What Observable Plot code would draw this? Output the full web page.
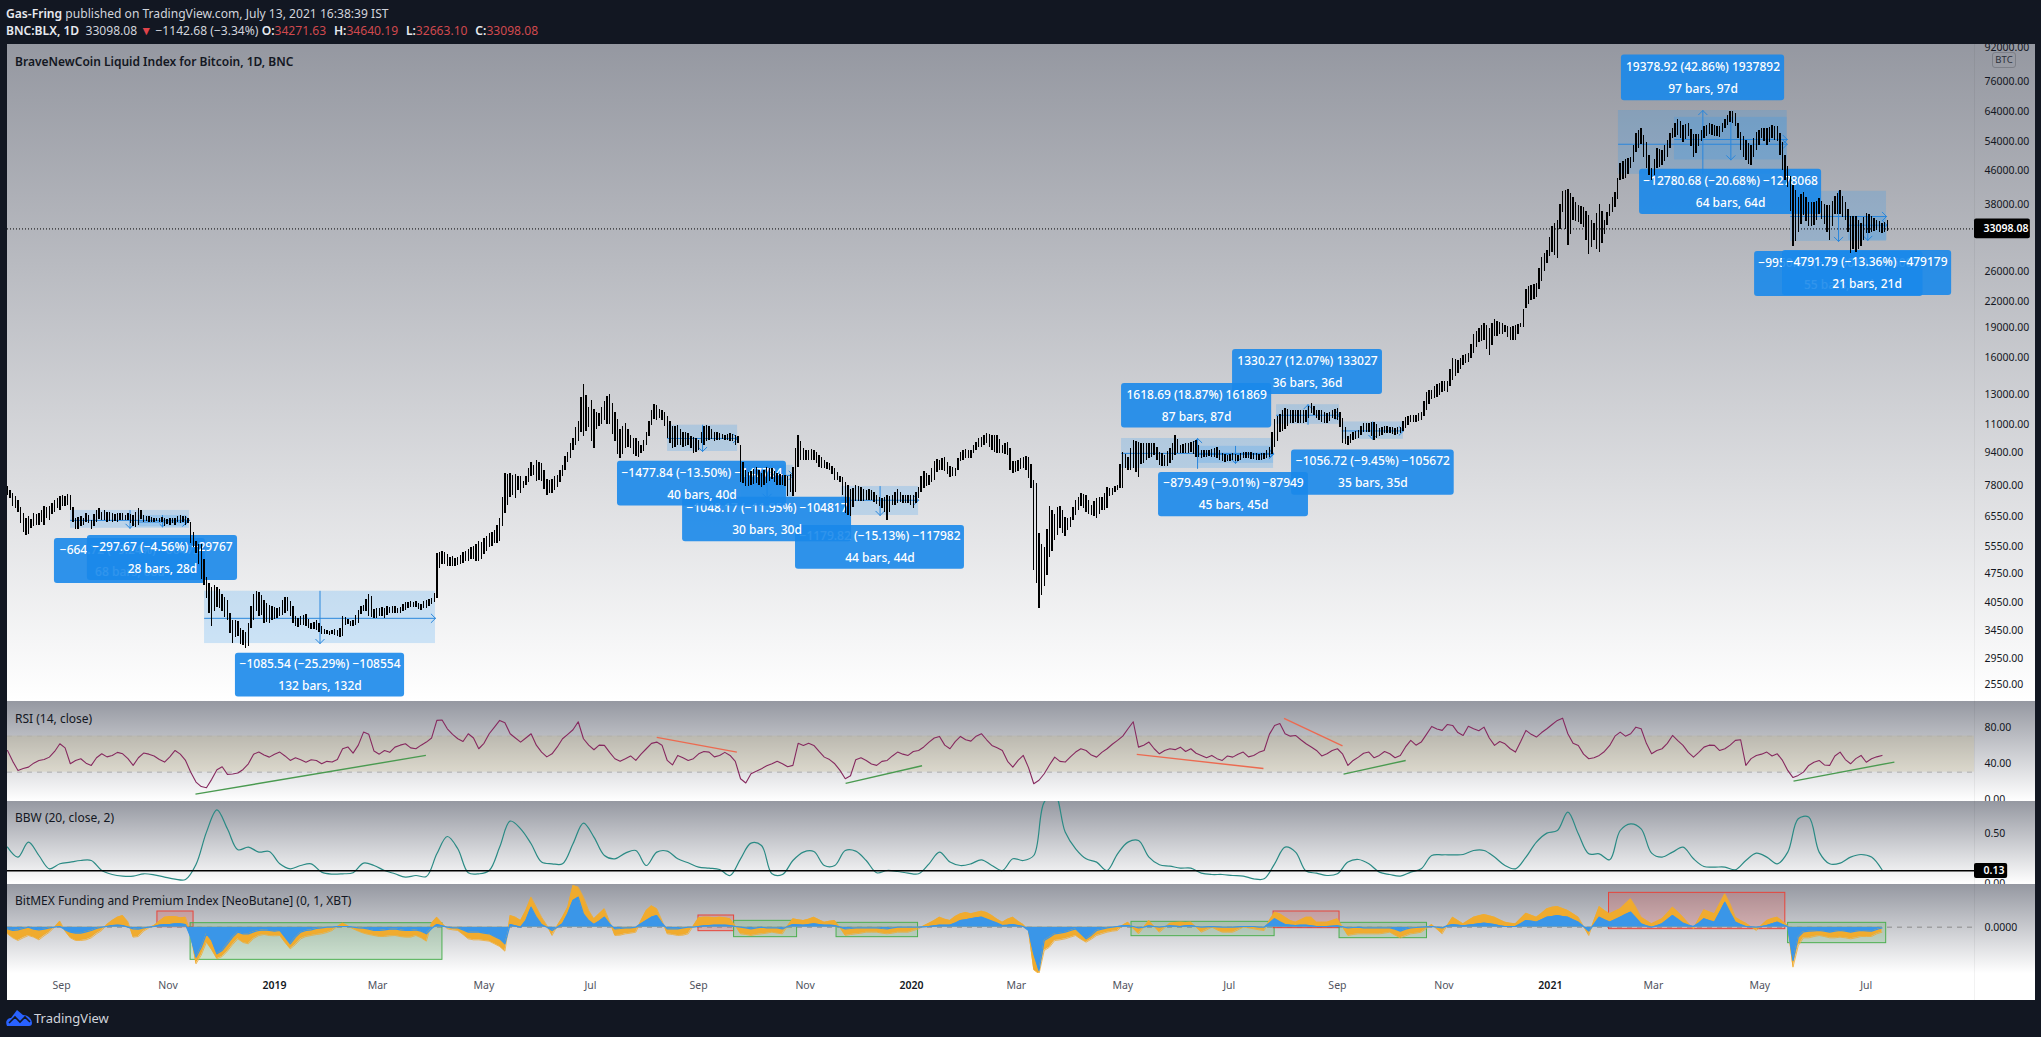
<!DOCTYPE html>
<html><head><meta charset="utf-8">
<script src="https://cdn.jsdelivr.net/npm/d3@7"></script>
<script src="https://cdn.jsdelivr.net/npm/@observablehq/plot@0.6"></script>
<style>
html,body{margin:0;padding:0;background:#121722;width:2041px;height:1037px;overflow:hidden;font-family:"Noto Sans",sans-serif}
.pane{position:absolute;left:0;width:2035px;overflow:hidden;background:linear-gradient(#9598a1,#ffffff) no-repeat 6.5px 0/2028.5px 100%}
.pane svg{position:absolute;left:0;top:0;background:transparent}
.pane::after{content:"";position:absolute;left:1974px;top:0;bottom:0;width:1px;background:rgba(0,0,0,.05)}
#fund{background:linear-gradient(#9598a1 0%,#ffffff 77%,#ffffff 100%) no-repeat 6.5px 0/2028.5px 100%}
.ttl{position:absolute;left:15px;font-size:12px;color:#131722;white-space:pre;transform:translateY(-50%)}
.hd{position:absolute;left:6px;font-size:12.1px;color:#d1d4dc;white-space:pre;transform:translateY(-50%)}
.hd b{font-weight:600;color:#e8eaf0}.hd i{font-style:normal;color:#d0494e;margin-right:1.5px}
#btc{position:absolute;left:1992px;top:52px;width:22px;height:14px;border:1px solid #7d8088;border-radius:3px;font-size:9.5px;line-height:14px;text-align:center;color:#2a2e39}
#tv{position:absolute;left:34px;top:1018px;transform:translateY(-50%);font-size:13px;color:#d1d4dc}
#logo{position:absolute;left:6px;top:1009px}
</style></head><body>
<div class="hd" style="top:12.5px"><b>Gas-Fring</b> published on TradingView.com, July 13, 2021 16:38:39 IST</div>
<div class="hd" style="top:29.5px"><b>BNC:BLX, 1D</b>  33098.08 <span style="color:#e0434a">▼</span> −1142.68 (−3.34%) <b>O:</b><i>34271.63</i>  <b>H:</b><i>34640.19</i>  <b>L:</b><i>32663.10</i>  <b>C:</b><i>33098.08</i></div>
<div class="pane" id="main" style="top:44px;height:657px"></div>
<div class="pane" id="rsi" style="top:701px;height:100px"></div>
<div class="pane" id="bbw" style="top:801px;height:83px"></div>
<div class="pane" id="fund" style="top:884px;height:116px"></div>
<div class="ttl" style="top:60.5px;font-weight:600">BraveNewCoin Liquid Index for Bitcoin, 1D, BNC</div>
<div class="ttl" style="top:717.5px">RSI (14, close)</div>
<div class="ttl" style="top:817px">BBW (20, close, 2)</div>
<div class="ttl" style="top:900px">BitMEX Funding and Premium Index [NeoButane] (0, 1, XBT)</div>
<div id="btc">BTC</div>
<svg id="logo" width="27" height="18" viewBox="0 0 27 18"><path d="M1 17C-1 13 1 9 5 9L11 1 17 6C22 6 26 10 26 14 26 16 25 17 23 17Z" fill="#2962ff"/><path d="M3 14L9 8 14 13 19 8 24 13" fill="none" stroke="#121722" stroke-width="1.6"/></svg>
<div id="tv">TradingView</div>
<script>
// ---------- data ----------
const firstDay = Date.UTC(2018, 7, 1);           // 1 Aug 2018
const priceStepDays = 3, indicatorStepDays = 6;
const priceHigh = [7750,7480,7190,6670,6550,6670,6670,6930,6930,7190,7330,7350,7400,6480,6550,6670,6420,6790,6730,6730,6670,6670,6670,6670,6610,6850,6610,6550,6500,6500,6500,6480,6480,6610,6550,6360,5700,5600,4650,4400,4400,4240,4090,3660,3630,3460,3600,4240,4290,4090,3980,3940,3940,4160,4060,3730,3730,3770,3600,3660,3530,3460,3460,3460,3730,3680,3660,3870,3980,4240,3890,3920,3920,3940,3960,3940,4040,4060,4060,4010,4090,4130,5330,5400,5300,5250,5200,5350,5450,5550,5700,5800,5950,6050,6500,8350,8350,8300,8200,8200,8900,8980,8830,8100,8100,8270,8750,9430,10150,11170,13800,12150,12000,11700,12500,13050,11800,10700,11060,10350,10150,9800,10550,11900,12250,11900,11500,10870,10970,10550,10450,10260,10050,10870,10870,10550,10450,10350,10450,10350,9800,8500,8430,8660,8350,8660,8590,8350,8270,8200,8660,10350,9600,9500,9500,9250,8980,8830,8590,8200,7960,7620,7810,7720,7600,7600,7390,7260,7390,7390,7620,7390,7390,7390,7740,8430,8280,8920,9000,9170,8670,8590,9430,9550,9520,9970,10260,10460,10360,10360,9790,9970,8920,9000,9170,9170,8050,5960,5500,6950,6650,6950,6540,6540,7190,7450,7390,6980,7260,7320,7740,7680,7820,9430,9170,10070,9970,9880,9880,9880,9430,9260,9610,10360,9790,9880,9970,10070,9520,9520,9550,9700,9350,9260,9350,9260,9430,9430,9350,9320,9350,9700,11350,11680,12070,11920,11920,11920,11920,12420,11920,11920,11700,11920,12040,11380,10270,10520,10650,11100,11100,11150,10750,10900,10850,10750,10850,11480,11590,11590,11800,13200,13340,13800,14000,14050,15950,15790,16250,16450,18250,18900,19450,18900,19850,19600,19200,19020,19200,19450,23600,24100,24350,28250,29300,33500,34700,40900,41400,39600,37700,37300,35700,34100,38000,34700,38000,40700,47900,49000,49600,56500,58300,53900,46400,52000,51500,54400,58300,61400,59200,59800,56300,56300,58800,59800,59200,58800,61300,64200,63200,57000,54400,52800,57000,58200,58200,59100,58800,53900,46900,42300,39600,40600,38300,38300,39200,38000,37700,39700,41100,38500,35400,35400,34100,36200,35400,34800,34100,34640];
const priceLow = [7400,6930,6730,5990,5930,6190,6240,6240,6420,6730,6790,6930,6790,6100,6190,6360,6100,6360,6420,6360,6360,6360,6420,6400,6190,6240,6360,6350,6340,6360,6190,6240,6240,6300,6240,5630,5330,4600,4140,3530,3940,3840,3660,3210,3340,3180,3150,3660,3730,3600,3600,3680,3730,3800,3730,3530,3560,3530,3480,3460,3370,3370,3370,3340,3340,3570,3530,3600,3840,3730,3690,3730,3690,3800,3800,3800,3870,3940,3940,3870,3900,4010,4130,5000,4950,4950,4980,5050,5100,5150,5100,5300,5500,5650,5700,6670,7300,7250,7460,7800,8200,8000,8000,7400,7460,7730,8200,8900,9500,10000,10280,10800,9600,10900,11280,11000,10000,9100,9600,9600,9180,9340,9800,10970,11280,11280,10150,9600,9800,9700,9800,9340,9500,9800,10070,10000,10070,10070,10000,9800,7950,7750,7800,7890,7730,7890,8100,7800,7800,7330,7330,8660,8980,8980,8980,8660,8590,8500,8050,7960,6670,6550,7130,7120,7190,7170,7030,6850,6420,6980,7050,7050,7050,6850,7260,7680,7820,8040,8510,8430,8190,8220,8920,9090,9090,9520,9700,9880,9520,9350,9350,9260,8350,8430,8590,8120,4850,3900,4420,5200,5740,6130,5850,6180,6600,6960,6720,6600,6500,6790,6850,7390,7600,7680,8510,8590,8190,8830,9090,9260,8750,8670,8830,9260,9350,9350,9430,9170,9090,9170,9170,9090,8920,8920,9000,8920,9090,9090,9030,9000,9030,9170,9700,10550,10700,11050,11150,11050,11150,11700,11380,11150,11050,11380,11270,9900,9800,10070,10170,10520,10520,10070,10270,10450,10450,10350,10450,10750,11150,11150,11270,11920,12700,12850,13200,13200,14110,14650,15350,15630,16450,17500,17670,16250,18050,18250,18500,17670,17670,19000,21100,22130,22550,24600,27300,29000,28000,36400,30100,34700,34400,33400,28600,31000,29000,32000,35400,37300,43500,43900,46400,51000,53200,46400,43500,46400,47300,49500,55000,56000,53900,55700,49500,52700,55000,56300,55800,55500,58200,60400,58800,51500,48700,47300,51500,55000,52800,55000,54000,46000,41700,30000,32400,35700,33500,33800,35900,34000,31000,35900,35900,34700,28800,29000,30000,32200,32500,32900,32200,32663];
// the bars that lie between the ones above
const betweenHigh = [7600,7350,6900,6500,6450,6620,6800,6900,7050,7250,
7400,7420,6900,6520,6480,6600,6650,6850,6780,6700,
6650,6680,6600,6640,6720,6800,6560,6520,6480,6520,
6450,6500,6560,6580,6500,6000,5600,5150,4500,4450,
4350,4150,3800,3650,3500,3420,3950,4300,4200,4020,
3960,3900,4080,4150,3950,3700,3760,3680,3620,3600,
3480,3440,3470,3500,3720,3640,3750,3950,4120,4180,
3900,3930,3950,3950,3920,4000,4040,4050,4030,4070,
4110,4250,5350,5350,5200,5180,5280,5400,5500,5600,
5680,5880,6000,6250,7300,8300,8250,8200,8000,8600,
8750,8900,8500,8050,8200,8500,9200,9900,10800,12800,
13000,12600,11800,12100,12900,12400,11300,10900,10700,10200,
10000,10050,11200,12300,12000,11800,11200,10900,10700,10500,
10300,10150,10500,10950,10700,10500,10400,10400,10400,10300,
8900,8420,8550,8500,8500,8600,8450,8300,8250,8300,
9600,10000,9500,9550,9400,9150,8900,8700,8400,8150,
7800,7700,7760,7650,7620,7500,7320,7300,7350,7500,
7500,7400,7380,7500,8200,8350,8600,9050,9100,8900,
8650,9100,9500,9530,9800,10150,10350,10400,10380,10100,
9900,9600,8950,9100,9200,8800,7900,5600,6100,6800,
6900,6800,6500,6900,7300,7420,7200,7150,7300,7450,
7700,7750,8800,9300,9600,10020,9900,9880,9870,9650,
9350,9450,9900,10100,9850,9900,10000,9800,9500,9540,
9620,9500,9300,9300,9300,9350,9430,9400,9330,9330,
9500,10500,11500,11900,12000,11900,11900,11900,12200,12200,
11900,11800,11800,12000,11800,10800,10400,10600,10900,11100,
11120,11000,10850,10880,10800,10800,11200,11550,11600,11700,
12500,13300,13600,13900,14050,15000,15900,16000,16350,17300,
18600,19200,19200,19400,19700,19400,19100,19100,19300,21000,
23900,24200,26500,28800,31500,34200,38000,41200,40500,38500,
37500,36500,34800,36000,36500,36300,39500,44000,48500,49300,
53000,57500,56000,50000,49000,51800,53000,56500,60000,60500,
59500,58000,56300,57500,59300,59500,59000,60000,62800,64000,
60000,55700,53500,55000,57600,58200,58600,59000,56500,50000,
44500,41000,40100,39500,38300,38700,38600,37800,38700,40400,
39800,36900,35400,34800,35200,35800,35100,34500,34400];
const betweenLow = [7250,6850,6300,5900,6150,6250,6350,6500,6650,6850,
6950,7000,6350,6100,6250,6300,6200,6450,6400,6380,
6380,6400,6400,6300,6180,6450,6380,6350,6370,6350,
6260,6300,6330,6350,6300,5500,5000,4450,3800,3850,
3900,3720,3400,3320,3200,3120,3500,3850,3750,3620,
3650,3700,3750,3850,3600,3520,3560,3500,3470,3420,
3380,3360,3360,3330,3560,3540,3560,3780,3850,3720,
3700,3740,3750,3800,3810,3840,3900,3930,3890,3920,
3960,4050,4900,5000,4950,4950,5000,5100,5150,5100,
5150,5400,5550,5650,6200,7000,7400,7600,7700,7950,
8250,8050,7650,7450,7600,7950,8500,9100,9800,10500,
10600,10000,10700,11000,11000,10400,9300,9300,9650,9300,
9150,9450,10300,11300,11400,10900,9900,9700,9800,9750,
9600,9400,9900,10000,10100,10050,10100,10050,10000,9900,
7900,7780,7850,7800,7820,8000,7950,7800,7750,7500,
7500,9000,9000,9000,8850,8600,8550,8300,8050,7400,
6600,6900,7150,7150,7180,7100,6950,6700,6700,7000,
7100,7050,7000,7050,7500,7750,7950,8400,8500,8300,
8200,8500,9000,9100,9350,9650,9800,9700,9400,9350,
9300,8500,8400,8550,8500,7700,4500,4200,4700,5400,
5900,5950,6050,6400,6800,6850,6650,6550,6650,6800,
7350,7500,7700,8600,8500,8400,8800,9000,9150,9000,
8700,8700,9000,9350,9350,9380,9300,9130,9130,9180,
9130,9000,8900,8950,8950,9000,9080,9050,9010,9010,
9100,9300,10000,10600,10900,11100,11100,11100,11400,11600,
11250,11100,11200,11300,10800,9850,9900,10100,10350,10500,
10300,10150,10350,10450,10400,10400,10600,10950,11150,11200,
11500,12300,12750,13000,13250,13600,14400,15000,15500,16000,
17000,17600,16800,17200,18100,18300,18000,17700,18300,19000,
21600,22300,23500,26000,28300,28500,33000,33000,32000,34500,
33900,31000,29800,29500,30500,33700,36300,39000,43700,45000,
48000,52000,49500,44800,44800,46800,48500,52000,55500,55000,
54800,52500,50500,54000,55600,56000,55600,56800,59300,60000,
55000,49500,47500,49500,53000,54000,53900,54500,50000,43500,
36500,30800,34000,34600,33600,34800,35000,32500,33500,35900,
35300,32500,29500,29500,31000,32300,32700,32500,32400];
const lastClose = 33098.08;
const priceTicks = [92000,76000,64000,54000,46000,38000,26000,22000,19000,16000,13000,11000,9400,7800,6550,5550,4750,4050,3450,2950,2550];

const rsiValues = [54.1,31.9,35.6,43,46.7,61.5,39.3,44.9,37.5,50.4,48.6,50.4,37.5,51.2,47.9,41.2,54.1,43,19,12.7,32.7,27.5,29,39.3,52.3,46.7,52.3,43,43.8,43.8,39.3,41.2,56,51.2,74.5,53.4,54.1,57.8,61.5,56,63.4,87.5,78.2,67.1,72.7,56,72.7,87.5,72.7,63.4,72.7,52.3,50.4,67.1,77.1,67.1,54.9,59.7,44.9,44.9,43,56,63.4,43,48.6,43,50.4,52.3,48.6,48.6,22.7,28.2,33.8,39.3,39.3,37.5,59.7,59.7,46.7,39.3,22.7,43.8,43,37.5,43,52.3,48.6,54.1,63.4,69.7,56,69.7,64.5,72.7,59.7,54.1,35.6,48.6,17.1,28.2,46.7,41.2,52.3,54.1,46.7,56,65.3,78.2,57.8,63.4,50.4,56,57.8,56,48.6,48.6,43,46.7,52.3,48.6,54.1,81.9,72.7,70.8,61.5,54.1,50.4,56,37.5,46.7,52.3,48.6,50.4,48.6,65.3,63.4,80.8,76.4,81.9,70.8,78.2,80,59.7,61.5,52.3,76.4,69,78.2,87.5,72.7,59.7,44.9,48.6,59.7,74.5,72.7,78.2,50.4,56,70.8,59.7,46.7,57.8,59.7,56,65.3,37.5,48.6,52.3,50.4,31.9,26.4,37.5,43,37.5,52.3,39.3,48.6,44.9,48.6];
const rsiBetween = [42,34,40,44,53,57,43,40,46,47,
52,45,46,50,44,47,50,30,14,22,
36,28,33,50,49,50,48,46,41,43,
42,44,58,60,72,50,52,60,57,60,
68,88,72,64,68,62,80,85,68,68,
60,47,58,72,86,60,60,52,42,48,
50,62,60,38,46,45,53,47,52,42,
18,31,37,42,36,62,62,53,44,32,
26,46,39,42,48,50,53,58,68,60,
64,66,70,66,57,42,43,35,21,38,
42,47,56,49,52,61,70,86,60,56,
54,55,53,51,46,45,48,50,47,52,
72,84,70,66,58,48,54,50,43,51,
46,53,46,58,60,72,78,83,74,81,
76,68,64,56,64,72,74,83,90,62,
50,46,53,70,70,80,62,54,62,65,
52,52,60,54,60,66,45,50,48,43,
24,30,41,38,48,44,45,41,47];
const rsiTicks = [0,40,80];
const rsiTrendStart = [107.7,372,480.2,647,731.4,765.5,1023.3];
const rsiTrendEnd = [239.7,417.9,524,719.6,764.9,801.1,1081.1];
const rsiTrendFrom = [5.6,68.6,17.5,49.7,89.7,27.8,20];
const rsiTrendTo = [48.6,52.3,37.1,34.1,59.3,43,41.2];
const rsiTrendKind = ["up","down","up","down","down","up","up"];

const bbwValues = [.367,.267,.417,.283,.15,.2,.217,.233,.233,.133,.093,.077,.077,.1,.09,.067,.047,.043,.193,.517,.74,.55,.34,.367,.317,.323,.2,.15,.183,.2,.117,.097,.1,.11,.207,.183,.133,.1,.067,.083,.073,.3,.473,.35,.11,.1,.133,.367,.627,.55,.4,.217,.2,.2,.4,.607,.467,.283,.25,.307,.333,.183,.317,.327,.25,.21,.167,.157,.143,.083,.25,.407,.383,.1,.093,.233,.317,.323,.183,.183,.333,.327,.233,.11,.133,.123,.107,.1,.2,.317,.217,.183,.2,.24,.183,.133,.25,.233,.283,.817,.9,.517,.35,.25,.217,.133,.3,.417,.433,.267,.19,.177,.157,.157,.107,.093,.093,.083,.077,.05,.05,.2,.367,.317,.127,.107,.083,.1,.217,.243,.2,.117,.093,.077,.117,.15,.283,.29,.29,.293,.333,.333,.267,.183,.15,.267,.417,.507,.533,.717,.5,.3,.3,.24,.533,.6,.55,.307,.267,.317,.367,.25,.173,.167,.167,.14,.233,.307,.267,.2,.317,.65,.667,.317,.2,.207,.267,.293,.267,.14];
const bbwLast = 0.13;
const bbwTicks = [0,0.5];

// funding series, in units of 0.0001
const fundBlue = [-.25,-.4,0,-.4,-.1,.1,-.75,-.9,-.5,0,.25,.25,-.25,-.1,.1,.4,.5,.4,-4.5,-1,-4,-2.5,-.75,-1,-.5,-.5,-.5,-2.5,-.75,-.4,-.1,0,.1,0,-.15,-.5,-.4,-.25,-.5,-.4,-1,.4,0,-.1,-.75,-.75,-1,-1.75,.4,0,3,.4,-.5,.5,4,2,.4,1.5,-.25,-.1,0,1,1.75,-.25,-.25,0,.1,.25,.3,.25,0,-.25,0,-.1,-.25,.4,.3,.5,.3,.25,-.25,-.1,-.1,-.1,-.25,0,0,0,.1,.3,.3,1,1.25,1.5,.9,.25,.4,.1,-4,-2,-1,-.75,-.25,-1.75,-.5,-.1,.1,.25,-.1,.2,0,.2,.1,.25,0,.1,0,0,.1,.1,0,1.25,.4,.25,.3,.1,.1,.2,-.1,0,-.1,-.1,-.1,-.6,-.1,0,.1,-.1,.4,.2,.4,.6,.4,.1,.1,1,.75,1.5,1.75,1.5,.75,-.6,1.5,.75,1.5,2.25,.5,0,.5,1.75,.6,.1,1.25,.75,3.75,.75,.1,0,.25,.75,.1,-1.5,-.6,-.5,-.75,-.5,-.75,-.5,-.6,-.1];
const fundOrange = [-1,-2,-1.25,-1.9,-.75,.9,-1.6,-2,-1.6,-.5,1,1.75,-1.5,-.6,.25,1.5,1.6,1.5,-5.5,-2.25,-4.75,-3.6,-1.75,-2.5,-1.25,-1.25,-1.25,-3.25,-1.75,-1.25,-1,-.5,.6,-.25,-.9,-1.25,-1.4,-1.25,-1.5,-1.25,-2.1,1.5,-.25,-.5,-1.75,-1.9,-2.1,-2.9,1.75,1,4.5,1.5,-1.25,1.5,6.25,4.5,1.25,2.75,-1.25,-1,-.75,2.5,2.75,-1,-1.25,-1,1.4,1.5,1.5,1.25,-1,-1.25,-1,-.75,-1,1.25,1,1.5,.75,1,-1.25,-1,-.75,-.75,-1,-.75,-.75,-.25,.6,1.5,1,2,2,2.4,1.75,.75,1.5,.4,-6.4,-3.5,-2,-1.75,-1.25,-2.25,-1.25,-.75,-.5,.75,-1,1,-.75,.6,.75,.75,-.75,0,-.75,-.75,0,-.25,-.5,2.25,1.5,.75,1.5,.75,.75,1.25,-1.25,-1,-1,-1,-.75,-1.6,-1,-.75,.4,-1,1.5,.5,1.5,1.9,1.5,.75,.5,2.1,1.5,2.75,3.1,2.5,1.5,-1.25,3.1,2,2.75,4.25,1.5,.5,1.25,3,1.5,-.25,2.6,2,5,1.5,.6,-.5,1,1.5,.25,-2.8,-1.6,-1.25,-1.6,-1.5,-1.75,-1.4,-1.4,-.75];
const fundBlueBetween = [-.5,-.2,-.3,-.3,0,-.4,-.9,-.7,-.2,.1,
.3,0,-.3,0,.3,.4,.5,-1.5,-3,-2,
-3.5,-1.5,-1,-.7,-.4,-.6,-1.5,-1.5,-.5,-.2,
0,.1,.1,-.1,-.3,-.5,-.3,-.4,-.5,-.6,
-.2,.2,-.1,-.4,-.7,-.9,-1.4,-2.5,.2,1,
1.5,0,0,2,4.5,1,.9,.5,-.2,-.1,
.5,1.5,.6,-.25,-.1,0,.2,.3,.3,.1,
-.1,-.1,-.1,-.1,.1,.35,.4,.4,.3,0,
-.2,-.1,-.1,-.2,-.1,0,0,.05,.2,.3,
.6,1.1,1.4,1.2,.6,.3,.25,-.5,-6.5,-1.5,
-.9,-.5,-1,-1.2,-.3,0,.2,.1,0,.1,
.1,.15,.2,.1,.05,.05,0,.05,.1,0,
.6,.8,.3,.3,.2,.1,.15,.05,-.05,-.1,
-.1,-.1,-.3,-.3,-.05,.05,0,.2,.3,.3,
.5,.5,.2,.1,.5,.9,1.1,1.6,1.6,1.1,
.1,.4,1.1,1.1,1.9,1.4,.2,.2,1.1,1.2,
.3,.6,1,2.2,2.2,.4,.05,.1,.5,.4,
-5,-.7,-.55,-.6,-.6,-.6,-.6,-.55,-.35];
const fundOrangeBetween = [-1.6,-1.6,-1.5,-1.3,0,-.6,-2,-1.9,-1,.4,
1.5,.8,-1.4,-.1,.9,1.6,1.4,-1,-4.2,-3.4,
-4.4,-2.6,-2.3,-1.7,-1.1,-1.3,-2.3,-2.6,-1.4,-1.1,
-.8,.1,.2,-.6,-1.1,-1.4,-1.3,-1.4,-1.5,-1.6,
.6,.6,-.4,-1.1,-1.9,-2,-2.5,-3.6,1.5,2.5,
3,.3,.2,3,6,2.5,2,.8,-1.2,-.9,
1,3.2,1,-1.1,-1.2,.2,1.5,1.4,1.4,.2,
-1.1,-1.1,-.9,-.9,.2,1.1,1.2,1.1,.9,-.1,
-1.1,-.9,-.75,-.9,-.9,-.75,-.5,.2,1,1.2,
1.6,2.2,2.2,2.2,1.2,1.2,.9,-.5,-7,-3,
-1.9,-1.5,-1.8,-1.8,-1,-.6,.3,-.2,0,.1,
-.1,.7,.7,0,-.4,-.4,-.75,-.4,-.1,-.4,
1,2,1,1.1,1.5,.75,1,0,-1.1,-1,
-1,-.9,-1.2,-1.3,-.9,-.2,-.3,.3,1,1,
1.7,1.7,1.1,.6,1.3,1.8,2.1,3,2.8,2,
.1,1,2.5,2.4,3.5,3,1,.9,2.1,2.3,
.6,1.2,2.3,3.5,3.5,1,.05,.3,1.3,.9,
-6,-1.6,-1.4,-1.4,-1.6,-1.6,-1.6,-1.4,-1];
const fundBoxStart = [85.9,104.9,395.9,416.3,475,644,725.4,763.2,917.6,1020.2];
const fundBoxEnd = [106.6,249.2,416.3,452.4,521.7,726,763.2,813.3,1018.6,1076.4];
const fundBoxTop = [2.35,.6,1.75,.95,.65,.8,2.35,.65,5.15,.65];
const fundBoxBottom = [0,-4.9,-.6,-1.5,-1.5,-1.35,-.15,-1.65,-.3,-2.4];
const fundBoxKind = ["red","green","red","green","green","green","red","green","red","green"];

// date-range tool rectangles on the price pane (days since first day, prices)
const boxStart = [36.1,74.8,112.9,378.2,420.2,477.9,638.3,681.8,727.1,764.7,923,955.1,1021.6,1054.8];
const boxEnd = [104.3,102.8,245.2,418.3,450.2,522,725.4,725.4,763.2,799.8,1019.7,1019.7,1076.6,1076.9];
const boxTop = [6790,6600,4310,10970,8750,7770,10180,9740,12310,11170,64450,62000,40900,35400];
const boxBottom = [6140,6190,3210,9460,7270,6600,8600,8850,11020,10130,45000,48800,30850,31030];
const boxMid = [6420,6360,3700,10180,8270,7190,9360,9310,11600,10620,53300,54750,35500,33800];
const boxUp = [false,false,false,false,false,false,true,false,true,false,true,false,false,false];

// their call-outs, bottom one first
const calloutStart = [26.9,45.8,130.6,451.5,386.8,349.5,701.9,638.3,735.7,659.5,924.7,935.1,1001,1017];
const calloutEnd = [113.4,131.8,227.5,548.3,483.6,446.3,787.8,724.3,828.9,745.4,1018.2,1039.4,1097.5,1113.9];
const calloutTop = [5800,5900,3040,6240,7310,8950,16800,13870,9540,8410,88070,46300,29170,29330];
const calloutBottom = [4500,4580,2375,4880,5690,6960,13040,10790,7400,6550,68130,35900,22630,22760];
const calloutLine1 = ["−664.72 (−9.24%) −66472","−297.67 (−4.56%) −29767","−1085.54 (−25.29%) −108554","−1179.82 (−15.13%) −117982","−1048.17 (−11.95%) −104817","−1477.84 (−13.50%) −147784","1330.27 (12.07%) 133027","1618.69 (18.87%) 161869","−1056.72 (−9.45%) −105672","−879.49 (−9.01%) −87949","19378.92 (42.86%) 1937892","−12780.68 (−20.68%) −1278068","−9950.00 (−21.90%) −995000","−4791.79 (−13.36%) −479179"];
const calloutLine2 = ["68 bars, 68d","28 bars, 28d","132 bars, 132d","44 bars, 44d","30 bars, 30d","40 bars, 40d","36 bars, 36d","87 bars, 87d","35 bars, 35d","45 bars, 45d","97 bars, 97d","64 bars, 64d","55 bars, 55d","21 bars, 21d"];

const monthTicks = [[2018,8,"Sep"],[2018,10,"Nov"],[2019,2,"Mar"],[2019,4,"May"],[2019,6,"Jul"],[2019,8,"Sep"],[2019,10,"Nov"],[2020,2,"Mar"],[2020,4,"May"],[2020,6,"Jul"],[2020,8,"Sep"],[2020,10,"Nov"],[2021,2,"Mar"],[2021,4,"May"],[2021,6,"Jul"]];
const yearTicks = [2019,2020,2021];

// ---------- helpers ----------
const day = n => new Date(firstDay + n * 864e5);
const bars = priceHigh.map((h,i)=>({date:day(i*priceStepDays),high:h,low:priceLow[i]}))
  .concat(betweenHigh.map((h,i)=>({date:day((i+.5)*priceStepDays),high:h,low:betweenLow[i]})));
const weave = (a,b,f)=>a.flatMap((v,i)=>i<b.length?[f(v,i,0),f(b[i],i,.5)]:[f(v,i,0)]);
const rsi = weave(rsiValues,rsiBetween,(v,i,o)=>({date:day((i+o)*indicatorStepDays),v}));
const bbw = bbwValues.map((v,i)=>({date:day(i*indicatorStepDays),v}));
const fundB = weave(fundBlue,fundBlueBetween,(v,i,o)=>({date:day((i+o)*indicatorStepDays),v}));
const fundO = weave(fundOrange,fundOrangeBetween,(v,i,o)=>({date:day((i+o)*indicatorStepDays),v}));
const W = 2035, ML = 7, MR = 61;
const xDomain = [day(0), day(1127)];
const base = (height,marginBottom=0)=>({width:W,height,marginLeft:ML,marginRight:MR,marginTop:0,marginBottom,
  style:{background:"transparent",fontFamily:"'Noto Sans',sans-serif",fontSize:"10.5px",color:"#131722"}});
const x = {domain:xDomain,axis:null};
const yAxis = (ticks,d)=>Plot.axisY(ticks,{anchor:"right",tickSize:0,tickPadding:10,label:null,tickFormat:t=>t.toFixed(d),textAnchor:"start"});
const tag = (value,top,bottom,endDay,d)=>[
  Plot.rect([value],{x1:()=>day(1127),x2:()=>day(endDay),y1:()=>bottom,y2:()=>top,fill:"#000",rx:2}),
  Plot.text([value],{y:v=>v,frameAnchor:"right",dx:9,textAnchor:"start",fill:"#fff",fontWeight:600,text:v=>v.toFixed(d)})
];

// ---------- price pane ----------
const BLUE = "#2196f3";
const boxes = boxStart.map((s,i)=>({s:day(s),e:day(boxEnd[i]),top:boxTop[i],bottom:boxBottom[i],mid:boxMid[i],c:day((s+boxEnd[i])/2),up:boxUp[i]}));
const callouts = calloutStart.map((s,i)=>({s:day(s),e:day(calloutEnd[i]),top:calloutTop[i],bottom:calloutBottom[i],c:day((s+calloutEnd[i])/2),y:Math.sqrt(calloutTop[i]*calloutBottom[i]),a:calloutLine1[i],b:calloutLine2[i]}));
const calloutMarks = callouts.flatMap(c=>[
  Plot.rect([c],{x1:"s",x2:"e",y1:"bottom",y2:"top",fill:"#1a88ea",fillOpacity:.9,rx:3}),
  Plot.text([c],{x:"c",y:"y",text:"a",dy:-11,fill:"#fff",fontSize:12,fontWeight:500}),
  Plot.text([c],{x:"c",y:"y",text:"b",dy:11,fill:"#fff",fontSize:12,fontWeight:500})
]);
document.getElementById("main").append(Plot.plot({...base(657),x,
  y:{type:"log",domain:[2317,93440],range:[657,0],axis:null},
  marks:[
    Plot.rect(boxes,{x1:"s",x2:"e",y1:"bottom",y2:"top",fill:BLUE,fillOpacity:.2}),
    Plot.arrow(boxes,{x1:"s",x2:"e",y1:"mid",y2:"mid",stroke:"#2a87dc",strokeWidth:1,bend:0,headLength:9,headAngle:90}),
    Plot.arrow(boxes,{x1:"c",x2:"c",y1:d=>d.up?d.bottom:d.top,y2:d=>d.up?d.top:d.bottom,stroke:"#2a87dc",strokeWidth:1,bend:0,headLength:9,headAngle:90}),
    ...calloutMarks,
    Plot.ruleY([lastClose],{stroke:"#000",strokeWidth:1,strokeDasharray:"1,2"}),
    Plot.ruleX(bars,{x:"date",y1:"low",y2:"high",stroke:"#000",strokeWidth:1.4,shapeRendering:"crispEdges"}),
    yAxis(priceTicks,2),
    ...tag(lastClose,34980,31300,1159,2)
  ]}));

// ---------- RSI pane ----------
const trends = rsiTrendStart.map((s,i)=>({s:day(s),e:day(rsiTrendEnd[i]),a:rsiTrendFrom[i],b:rsiTrendTo[i],k:rsiTrendKind[i]}));
document.getElementById("rsi").append(Plot.plot({...base(100),x,
  y:{domain:[-2.6,108.5],range:[100,0],axis:null},
  marks:[
    Plot.rect([0],{y1:()=>30,y2:()=>70,fill:"#c2ae58",fillOpacity:.17}),
    Plot.ruleY([30],{stroke:"#8b8b8b",strokeOpacity:.6,strokeDasharray:"5,5",strokeWidth:1}),
    Plot.ruleY([70],{stroke:"#8b8b8b",strokeOpacity:.2,strokeDasharray:"5,5",strokeWidth:1}),
    Plot.line(rsi,{x:"date",y:"v",stroke:"#86295f",strokeWidth:1.1}),
    Plot.link(trends,{x1:"s",x2:"e",y1:"a",y2:"b",stroke:d=>d.k==="up"?"#4a9a50":"#ec6a50",strokeWidth:1.4}),
    yAxis(rsiTicks,2)
  ]}));

// ---------- BBW pane ----------
document.getElementById("bbw").append(Plot.plot({...base(83),x,
  y:{domain:[-.007,.823],range:[83,0],axis:null},
  marks:[
    Plot.line(bbw,{x:"date",y:"v",stroke:"#2a8a84",strokeWidth:1.2,clip:true,curve:"catmull-rom"}),
    Plot.ruleY([bbwLast],{stroke:"#000",strokeWidth:1.4}),
    yAxis(bbwTicks,2),
    ...tag(bbwLast,.203,.053,1146,2)
  ]}));

// ---------- funding pane ----------
const fundBoxes = fundBoxStart.map((s,i)=>({s:day(s),e:day(fundBoxEnd[i]),top:fundBoxTop[i],bottom:fundBoxBottom[i],k:fundBoxKind[i]}));
const monthDates = monthTicks.map(([y,m,l])=>Object.assign(new Date(Date.UTC(y,m,1)),{label:l}));
const yearDates = yearTicks.map(y=>new Date(Date.UTC(y,0,1)));
document.getElementById("fund").append(Plot.plot({...base(116,27),
  x:{domain:xDomain,axis:null},
  y:{domain:[-6.95,6.4],range:[89,0],axis:null},
  marks:[
    Plot.ruleY([0],{stroke:"#8b8b8b",strokeDasharray:"5,5",strokeWidth:1}),
    Plot.rect(fundBoxes,{x1:"s",x2:"e",y1:"bottom",y2:"top",fill:d=>d.k==="red"?"#f44336":"#4caf50",fillOpacity:.2,stroke:d=>d.k==="red"?"#e8443a":"#4caf50",strokeWidth:1}),
    Plot.areaY(fundO,{x:"date",y1:()=>0,y2:"v",fill:"#f0ab2e",clip:true}),
    Plot.lineY(fundO,{x:"date",y:"v",stroke:"#f0ab2e",strokeWidth:.8,clip:true}),
    Plot.areaY(fundB,{x:"date",y1:()=>0,y2:"v",fill:"#3a96e8",clip:true}),
    Plot.lineY(fundB,{x:"date",y:"v",stroke:"#3a96e8",strokeWidth:1.2,clip:true}),
    Plot.axisX(monthDates,{anchor:"bottom",tickSize:0,tickPadding:8,label:null,tickFormat:d=>d.label,fill:"#50535e",fontSize:10.5}),
    Plot.axisX(yearDates,{anchor:"bottom",tickSize:0,tickPadding:8,label:null,tickFormat:d=>String(d.getUTCFullYear()),fill:"#131722",fontWeight:600,fontSize:10.5}),
    yAxis([0],4)
  ]}));
</script>
</body></html>
